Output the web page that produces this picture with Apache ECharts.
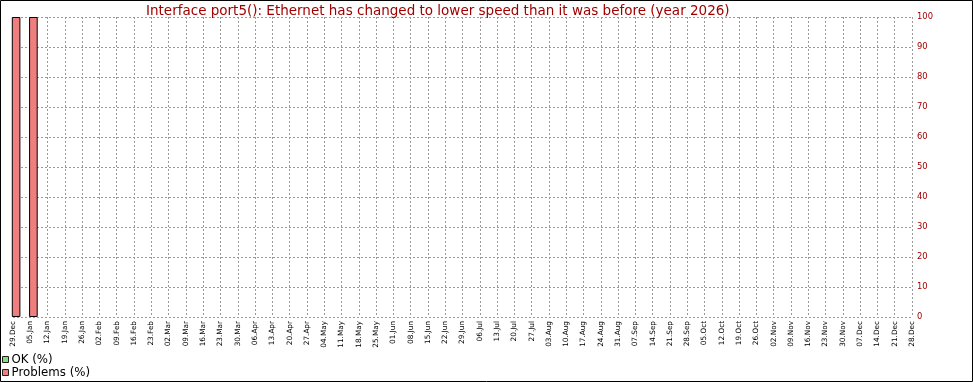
<!DOCTYPE html>
<html>
<head>
<meta charset="utf-8">
<script src="https://cdn.jsdelivr.net/npm/echarts@6/dist/echarts.min.js"></script>
<style>
html,body{margin:0;padding:0;background:#fff;}
#chart{width:973px;height:382px;}
</style>
</head>
<body>
<div id="chart"></div>
<script>
const titleText = 'Interface port5(): Ethernet has changed to lower speed than it was before (year 2026)';
const weeks = ['29.Dec','05.Jan','12.Jan','19.Jan','26.Jan','02.Feb','09.Feb','16.Feb','23.Feb','02.Mar','09.Mar','16.Mar','23.Mar','30.Mar','06.Apr','13.Apr','20.Apr','27.Apr','04.May','11.May','18.May','25.May','01.Jun','08.Jun','15.Jun','22.Jun','29.Jun','06.Jul','13.Jul','20.Jul','27.Jul','03.Aug','10.Aug','17.Aug','24.Aug','31.Aug','07.Sep','14.Sep','21.Sep','28.Sep','05.Oct','12.Oct','19.Oct','26.Oct','02.Nov','09.Nov','16.Nov','23.Nov','30.Nov','07.Dec','14.Dec','21.Dec','28.Dec'];
const okValues = [0,0,null,null,null,null,null,null,null,null,null,null,null,null,null,null,null,null,null,null,null,null,null,null,null,null,null,null,null,null,null,null,null,null,null,null,null,null,null,null,null,null,null,null,null,null,null,null,null,null,null,null,null];
const problemValues = [100,100,null,null,null,null,null,null,null,null,null,null,null,null,null,null,null,null,null,null,null,null,null,null,null,null,null,null,null,null,null,null,null,null,null,null,null,null,null,null,null,null,null,null,null,null,null,null,null,null,null,null,null];
const yTicks = {min: 0, max: 100, interval: 10};

const FONT = 'DejaVu Sans';
const RED = '#a00000';
const GRID = {type: [2, 2], color: '#9a9a9a', width: 1};
const chart = echarts.init(document.getElementById('chart'), null, {renderer: 'canvas'});
chart.setOption({
  animation: false,
  backgroundColor: '#ffffff',
  title: {
    text: titleText, left: 146, top: 4, padding: 0,
    textStyle: {fontFamily: FONT, fontSize: 13.5, fontWeight: 'normal', color: RED}
  },
  legend: {
    orient: 'vertical', left: 2, top: 353, padding: 0, itemGap: 0,
    itemWidth: 6, itemHeight: 6, icon: 'rect',
    textStyle: {fontFamily: FONT, fontSize: 11.8, color: '#000', lineHeight: 13, padding: [0, 0, 0, -2]},
    data: [
      {name: 'OK (%)', itemStyle: {color: '#7de07d', borderColor: '#222', borderWidth: 1}},
      {name: 'Problems (%)', itemStyle: {color: '#ef7f7f', borderColor: '#222', borderWidth: 1}}
    ]
  },
  grid: {left: 13, right: 61, top: 17, bottom: 65, containLabel: false},
  xAxis: {
    type: 'category', data: weeks, boundaryGap: false,
    axisLine: {show: false}, axisTick: {show: false},
    axisLabel: {interval: 0, rotate: 90, margin: 4, fontFamily: FONT, fontSize: 7.3, color: '#000'},
    splitLine: {show: true, interval: 0, lineStyle: GRID}
  },
  yAxis: {
    type: 'value', position: 'right', min: yTicks.min, max: yTicks.max, interval: yTicks.interval,
    axisLine: {show: false}, axisTick: {show: false},
    axisLabel: {margin: 5, fontFamily: FONT, fontSize: 8.4, color: RED},
    splitLine: {show: true, lineStyle: GRID}
  },
  series: [
    {type: 'bar', name: 'pad', stack: 'pad', data: [], barWidth: 6.2, barGap: '0%', silent: true},
    {type: 'bar', name: 'OK (%)', stack: 'a', data: okValues, barWidth: 8.6, barGap: '0%', clip: false,
     itemStyle: {color: '#7de07d', borderWidth: 0}},
    {type: 'bar', name: 'Problems (%)', stack: 'a', data: problemValues, barWidth: 8.6, barGap: '0%', clip: false,
     itemStyle: {color: '#ef7f7f', borderColor: '#000', borderWidth: 1}}
  ],
  graphic: [{
    type: 'rect', shape: {x: 0.5, y: 0.5, width: 972, height: 381},
    style: {fill: 'none', stroke: '#000', lineWidth: 1}, silent: true, z: 100
  }]
});
</script>
</body>
</html>
